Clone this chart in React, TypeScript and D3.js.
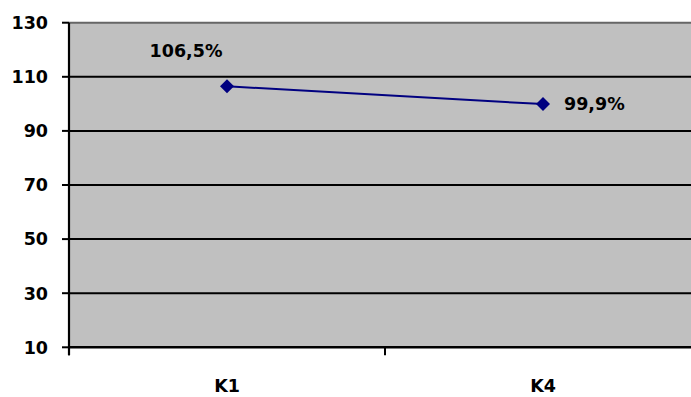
import React from "react";
import * as d3 from "d3";

const categories = ["K1", "K4"];
const values = [106.5, 99.9];
const valueLabels = ["106,5%", "99,9%"];
const yTicks = [10, 30, 50, 70, 90, 110, 130];

const W = 691;
const H = 397;
const plot = { left: 69, top: 22.7, right: 701, bottom: 347.3 };
const font = "'DejaVu Sans', 'Liberation Sans', sans-serif";
const fs = 17.5;

export default function App() {
  const x = d3.scaleBand<string>().domain(categories).range([plot.left, plot.right]);
  const y = d3.scaleLinear().domain([10, 130]).range([plot.bottom, plot.top]);
  const cx = (c: string) => (x(c) ?? 0) + x.bandwidth() / 2;
  const line = d3
    .line<number>()
    .x((_, i) => cx(categories[i]))
    .y((v) => y(v));
  const marker = d3.symbol().type(d3.symbolSquare).size(98)() ?? "";
  const boundaries = [plot.left, ...categories.map((c) => (x(c) ?? 0) + x.bandwidth())];

  return (
    <svg
      width={W}
      height={H}
      style={{ position: "absolute", left: 0, top: 0, display: "block", background: "#fff" }}
    >
      <rect x={plot.left} y={plot.top} width={plot.right - plot.left} height={plot.bottom - plot.top} fill="#c0c0c0" />
      <line x1={plot.left} x2={plot.right} y1={y(130)} y2={y(130)} stroke="#666" strokeWidth={2} />
      {yTicks.filter((t) => t !== 10 && t !== 130).map((t) => (
        <line key={t} x1={plot.left} x2={plot.right} y1={y(t)} y2={y(t)} stroke="#000" strokeWidth={2} />
      ))}
      {/* axes */}
      <line x1={plot.left} x2={plot.left} y1={plot.top} y2={plot.bottom + 8} stroke="#000" strokeWidth={2.2} />
      <line x1={plot.left} x2={plot.right} y1={plot.bottom} y2={plot.bottom} stroke="#000" strokeWidth={2.5} />
      {yTicks.map((t) => (
        <g key={t}>
          <line x1={plot.left - 7} x2={plot.left} y1={y(t)} y2={y(t)} stroke="#000" strokeWidth={2} />
          <text x={48} y={y(t)} dy="0.36em" textAnchor="end" fontFamily={font} fontWeight={700} fontSize={fs} fill="#000">
            {t}
          </text>
        </g>
      ))}
      {boundaries.map((b, i) => (
        <line key={i} x1={b} x2={b} y1={plot.bottom} y2={plot.bottom + 8} stroke="#000" strokeWidth={2} />
      ))}
      {categories.map((c) => (
        <text key={c} x={cx(c)} y={392} textAnchor="middle" fontFamily={font} fontWeight={700} fontSize={fs} fill="#000">
          {c}
        </text>
      ))}
      {/* series */}
      <path d={line(values) ?? ""} fill="none" stroke="#000080" strokeWidth={2} />
      {values.map((v, i) => (
        <path key={i} d={marker} transform={`translate(${cx(categories[i])},${y(v)}) rotate(45)`} fill="#000080" />
      ))}
      <text x={cx(categories[0]) - 41} y={y(values[0]) - 29} textAnchor="middle" fontFamily={font} fontWeight={700} fontSize={fs} fill="#000">
        {valueLabels[0]}
      </text>
      <text x={cx(categories[1]) + 21} y={y(values[1]) + 6} textAnchor="start" fontFamily={font} fontWeight={700} fontSize={fs} fill="#000">
        {valueLabels[1]}
      </text>
    </svg>
  );
}
